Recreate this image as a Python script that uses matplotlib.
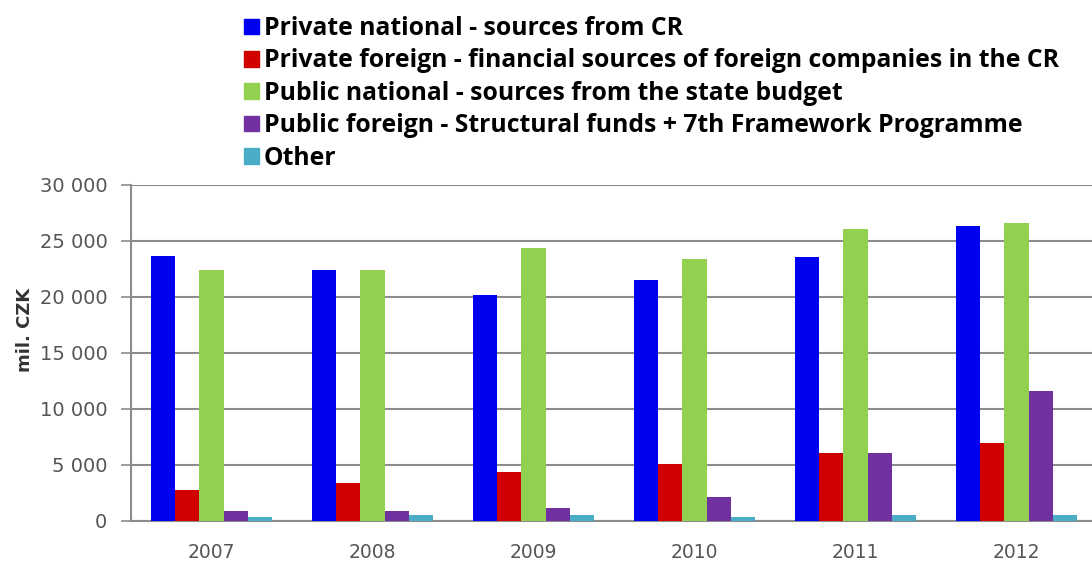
import matplotlib.pyplot as plt
import numpy as np
from matplotlib.ticker import FuncFormatter
from matplotlib.patches import Patch

years = ['2007', '2008', '2009', '2010', '2011', '2012']
private_national = [23650, 22400, 20200, 21500, 23600, 26300]
private_foreign = [2750, 3400, 4400, 5100, 6100, 7000]
public_national = [22400, 22400, 24400, 23400, 26100, 26600]
public_foreign = [900, 900, 1200, 2100, 6100, 11600]
other = [400, 550, 550, 400, 550, 550]

series = [private_national, private_foreign, public_national, public_foreign, other]
labels = ['Private national - sources from CR',
          'Private foreign - financial sources of foreign companies in the CR',
          'Public national - sources from the state budget',
          'Public foreign - Structural funds + 7th Framework Programme',
          'Other']
colors = ['#0000f0', '#d00000', '#92d050', '#7030a0', '#4bacc6']

fig = plt.figure(figsize=(10.92, 5.66), dpi=100)
ax = fig.add_axes([131 / 1092, 45 / 566, 966 / 1092, 336 / 566])

x = np.arange(len(years))
w = 0.15
for i, (vals, c, lab) in enumerate(zip(series, colors, labels)):
    ax.bar(x + (i - 2) * w, vals, w, color=c, label=lab, zorder=3)

ax.set_xlim(-0.5, len(years) - 0.5)
ax.set_ylim(0, 30000)
ax.set_yticks(range(0, 30001, 5000))
ax.yaxis.set_major_formatter(FuncFormatter(lambda v, p: f'{int(v):,}'.replace(',', ' ')))
ax.set_xticks(x)
ax.set_xticklabels(years)
ax.grid(axis='y', color='#8c8c8c', linewidth=1.5, zorder=0)
ax.tick_params(axis='y', colors='#8c8c8c', length=7, width=1.2, labelsize=14, pad=10)
ax.tick_params(axis='x', length=0, labelsize=13.5, pad=16)
for t in ax.get_yticklabels() + ax.get_xticklabels():
    t.set_color('#555555')
for s in ['top', 'right']:
    ax.spines[s].set_visible(False)
for s in ['left', 'bottom']:
    ax.spines[s].set_color('#8c8c8c')
    ax.spines[s].set_linewidth(1.5)

fig.text(0.023, 1 - 330 / 566, 'mil. CZK', rotation=90, ha='center', va='center',
         fontsize=13, fontweight='bold', color='#333333')

handles = [Patch(color=c) for c in colors]
fig.legend(handles, labels, loc='upper left', bbox_to_anchor=(228 / 1092, 1.0),
           frameon=False, prop={'family': 'Open Sans', 'weight': 'bold', 'size': 17.8},
           handlelength=0.6, handleheight=0.6, handletextpad=0.2, labelspacing=0.3,
           borderaxespad=0.25)

fig.savefig('out.png', dpi=100)
